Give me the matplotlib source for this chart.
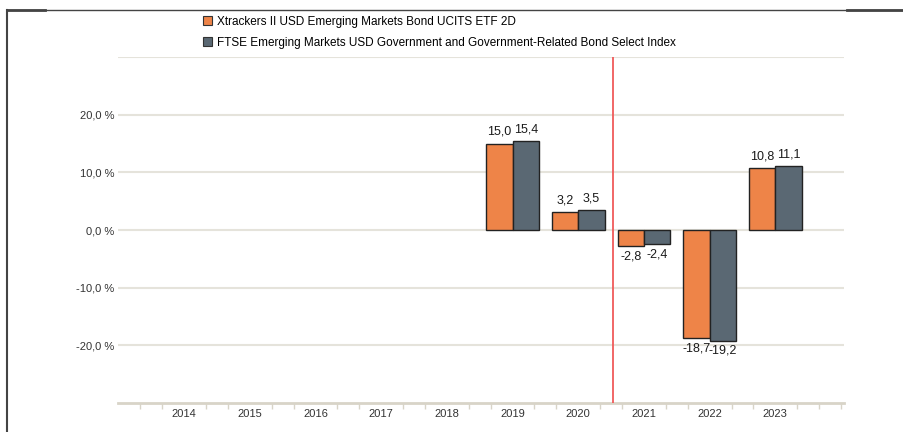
import matplotlib.pyplot as plt
import numpy as np
from matplotlib.lines import Line2D

plt.rcParams['font.family'] = ['Liberation Sans', 'DejaVu Sans']

years = [2014, 2015, 2016, 2017, 2018, 2019, 2020, 2021, 2022, 2023]
fund_years = [2019, 2020, 2021, 2022, 2023]
fund = [15.0, 3.2, -2.8, -18.7, 10.8]
index = [15.4, 3.5, -2.4, -19.2, 11.1]
fund_name = 'Xtrackers II USD Emerging Markets Bond UCITS ETF 2D'
index_name = 'FTSE Emerging Markets USD Government and Government-Related Bond Select Index'
yticks = [-20, -10, 0, 10, 20]

c_fund = '#EE8448'
c_index = '#5A6873'
grid_c = '#E5E3DB'

fig = plt.figure(figsize=(9.04, 4.32), dpi=100)
ax = fig.add_axes([0.131, 0.067, 0.803, 0.801])

w = 0.4
x = np.array(fund_years)
b1 = ax.bar(x - w / 2, fund, w, color=c_fund, edgecolor='#222222', linewidth=1, zorder=3)
b2 = ax.bar(x + w / 2, index, w, color=c_index, edgecolor='#222222', linewidth=1, zorder=3)

def fmt(v):
    return f'{v:.1f}'.replace('.', ',')

for bars, vals in [(b1, fund), (b2, index)]:
    for b, v in zip(bars, vals):
        cx = b.get_x() + b.get_width() / 2
        if v >= 0:
            ax.annotate(fmt(v), (cx, v), xytext=(0, 4), textcoords='offset points',
                        ha='center', va='bottom', fontsize=9, color='#1a1a1a')
        else:
            ax.annotate(fmt(v), (cx, v), xytext=(0, -3), textcoords='offset points',
                        ha='center', va='top', fontsize=9, color='#1a1a1a')

ax.set_xlim(2013, 2024.05)
ax.set_ylim(-30, 30)

# grid
for g in [-20, -10, 0, 10, 20, 30]:
    ax.axhline(g, color=grid_c, linewidth=1.5, zorder=1)

ax.axvline(2020.53, color='#F05A5A', linewidth=1.3, zorder=4)

ax.set_yticks(yticks)
ax.set_yticklabels([fmt(v) + ' %' for v in yticks], fontsize=8, color='#333333')
ax.tick_params(axis='y', length=0, pad=3)

ax.set_xticks(years)
ax.set_xticklabels([str(y) for y in years], fontsize=8, color='#333333')
ax.tick_params(axis='x', length=0, pad=4)
minor = []
for y in range(2013, 2024):
    minor += [y + 1 / 3, y + 2 / 3]
minor += [2024]
ax.set_xticks(minor, minor=True)
ax.tick_params(axis='x', which='minor', length=4, width=1, color='#D8D4C8', direction='out')

for s in ['top', 'right', 'left']:
    ax.spines[s].set_visible(False)
ax.spines['bottom'].set_color('#D8D4C8')
ax.spines['bottom'].set_linewidth(2)

# legend
handles = [plt.Rectangle((0, 0), 1, 1, facecolor=c_fund, edgecolor='#333333', linewidth=0.8),
           plt.Rectangle((0, 0), 1, 1, facecolor=c_index, edgecolor='#333333', linewidth=0.8)]
fig.legend(handles, [fund_name, index_name], loc='upper left', bbox_to_anchor=(0.219, 0.975),
           frameon=False, fontsize=8.5, handlelength=0.8, handleheight=0.8,
           handletextpad=0.4, labelspacing=0.8, borderaxespad=0)

# outer frame
fig.add_artist(Line2D([0.008, 1.0], [0.977, 0.977], color='#444444', linewidth=1))
fig.add_artist(Line2D([0.008, 0.05], [0.977, 0.977], color='#444444', linewidth=2))
fig.add_artist(Line2D([0.937, 1.0], [0.977, 0.977], color='#444444', linewidth=2))
fig.add_artist(Line2D([0.008, 0.008], [0.0, 0.977], color='#444444', linewidth=1.5))

fig.savefig('out.png', dpi=100)
